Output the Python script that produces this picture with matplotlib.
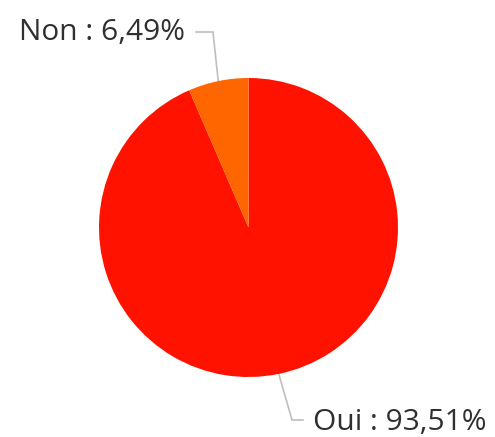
import numpy as np
import matplotlib
matplotlib.use("Agg")
import matplotlib.pyplot as plt

labels = ["Oui", "Non"]
values = [93.51, 6.49]
colors = ["#FF1200", "#FF6600"]
label_texts = ["Oui : 93,51%", "Non : 6,49%"]

W, H = 495, 437
fig = plt.figure(figsize=(W / 100, H / 100), dpi=100)
ax = fig.add_axes([0, 0, 1, 1])
ax.set_xlim(0, W)
ax.set_ylim(0, H)
ax.set_aspect("equal")
ax.axis("off")

cx, cy, r = 248.5, H - 227.5, 149.5
wedges, _ = ax.pie(values, colors=colors, startangle=90, counterclock=False,
                   center=(cx, cy), radius=r, frame=True,
                   wedgeprops=dict(linewidth=0))
ax.set_xlim(0, W)
ax.set_ylim(0, H)
ax.axis("off")

plt.rcParams["font.family"] = ["Open Sans", "DejaVu Sans"]
line_color = "#BFBFBF"
text_color = "#303030"

# layout of leader lines (image coordinates of elbow and end)
layout = {
    "Oui": dict(elbow=(292, 420), end=(303, 420), text=(313, 430), ha="left"),
    "Non": dict(elbow=(213, 32), end=(196, 32), text=(185, 39.5), ha="right"),
}

for w, lab, txt in zip(wedges, labels, label_texts):
    mid = np.deg2rad((w.theta1 + w.theta2) / 2)
    sx, sy = cx + r * np.cos(mid), cy + r * np.sin(mid)
    L = layout[lab]
    ex, ey = L["elbow"][0], H - L["elbow"][1]
    tx, ty = L["end"][0], H - L["end"][1]
    ax.plot([sx, ex, tx], [sy, ey, ty], color=line_color, lw=1.2,
            solid_joinstyle="miter", zorder=0)
    ax.text(L["text"][0], H - L["text"][1], txt, ha=L["ha"], va="baseline",
            fontsize=21.5, color=text_color, family=["Open Sans", "DejaVu Sans"])

fig.savefig("out.png", dpi=100, facecolor="white")
